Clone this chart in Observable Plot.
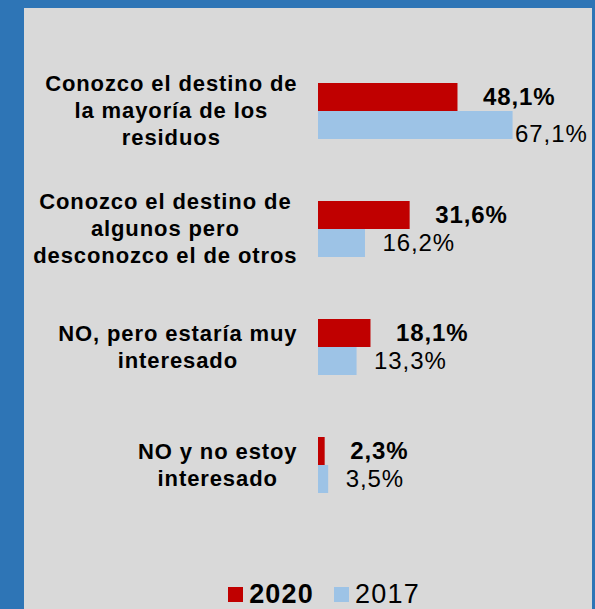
<!DOCTYPE html>
<html>
<head>
<meta charset="utf-8">
<script src="https://cdn.jsdelivr.net/npm/d3@7"></script>
<script src="https://cdn.jsdelivr.net/npm/@observablehq/plot@0.6"></script>
<style>
  html, body { margin: 0; padding: 0; background: #ffffff; }
  #frame {
    position: absolute; left: 0; top: 0;
    width: 595px; height: 609px; box-sizing: border-box;
    border-top: 8px solid #2e75b6; border-left: 24px solid #2e75b6; border-right: 3px solid #2e75b6;
    background: #d9d9d9; overflow: hidden;
    font-family: Arial, "Liberation Sans", sans-serif;
  }
  #chart svg text { letter-spacing: 0.9px; }
  #legend {
    position: absolute; left: 32px; right: 0; top: 573px; height: 27px;
    display: flex; justify-content: center; align-items: center;
    font-size: 27px; line-height: 27px; letter-spacing: 1.2px; color: #000;
  }
  .sw { width: 15px; height: 15px; display: inline-block; margin-right: 6px; }
</style>
</head>
<body>
<div id="frame"><div id="chart"></div><div id="legend"></div></div>
<script>
const categories = ["destino_mayoria", "destino_algunos", "no_interesado", "no_no_interesado"];
const categoryLabels = [
  "Conozco el destino de\nla mayoría de los\nresiduos",
  "Conozco el destino de\nalgunos pero\ndesconozco el de otros",
  "NO, pero estaría muy\ninteresado",
  "NO y no estoy\ninteresado"
];
const series = ["2020", "2017"];
const values2020 = [48.1, 31.6, 18.1, 2.3];
const values2017 = [67.1, 16.2, 13.3, 3.5];
const seriesColors = ["#c00000", "#9dc3e6"];

const rows = [];
categories.forEach((c, i) => {
  rows.push({category: c, series: "2020", value: values2020[i]});
  rows.push({category: c, series: "2017", value: values2017[i]});
});
const fmt = v => v.toFixed(1).replace(".", ",") + "%";

const labelFont = 22, labelLS = 0.9;
const canvas = document.createElement("canvas");
const ctx = canvas.getContext("2d");
ctx.font = `bold ${labelFont}px Arial, "Liberation Sans", sans-serif`;
const blockWidth = lbl => d3.max(lbl.split("\n"), s => ctx.measureText(s).width + labelLS * s.length);

const marginLeft = 294;
const labelRight = 273; // right edge of label block (svg px)

const labelMarks = categories.map((c, i) => Plot.text([c], {
  fy: d => d,
  text: () => categoryLabels[i],
  frameAnchor: "left",
  textAnchor: "middle",
  dx: (labelRight - marginLeft) - blockWidth(categoryLabels[i]) / 2,
  dy: -2,
  fontWeight: "bold",
  fontSize: labelFont,
  lineHeight: 1.23,
  fill: "black"
}));

const plot = Plot.plot({
  width: 568,
  height: 570,
  marginLeft, marginRight: 13, marginTop: 43, marginBottom: 53,
  style: {background: "transparent", fontFamily: "Arial, 'Liberation Sans', sans-serif", color: "black", overflow: "visible"},
  x: {domain: [0, 90], axis: null},
  y: {domain: series, axis: null, paddingInner: 0, paddingOuter: 1.077},
  fy: {domain: categories, axis: null, padding: 0},
  color: {domain: series, range: seriesColors},
  marks: [
    Plot.barX(rows, {x: "value", y: "series", fy: "category", fill: "series"}),
    Plot.text(rows.filter(d => d.series === "2020"), {
      x: "value", y: "series", fy: "category", text: d => fmt(d.value),
      textAnchor: "start", dx: 25, fontWeight: "bold", fontSize: 24, fill: "black"
    }),
    Plot.text(rows.filter(d => d.series === "2017" && d.value < 60), {
      x: "value", y: "series", fy: "category", text: d => fmt(d.value),
      textAnchor: "start", dx: 17, fontSize: 24, fill: "black"
    }),
    Plot.text(rows.filter(d => d.series === "2017" && d.value >= 60), {
      x: "value", y: "series", fy: "category", text: d => fmt(d.value),
      textAnchor: "start", dx: 2, dy: 9, fontSize: 24, fill: "black"
    }),
    ...labelMarks
  ]
});
document.getElementById("chart").appendChild(plot);

const legend = document.getElementById("legend");
series.forEach((s, i) => {
  const item = document.createElement("span");
  item.style.display = "inline-flex";
  item.style.alignItems = "center";
  item.style.marginRight = i === 0 ? "20px" : "0";
  const sw = document.createElement("span");
  sw.className = "sw";
  sw.style.background = seriesColors[i];
  const t = document.createElement("span");
  t.textContent = s;
  t.style.fontWeight = i === 0 ? "bold" : "normal";
  item.appendChild(sw); item.appendChild(t);
  legend.appendChild(item);
});
</script>
</body>
</html>
